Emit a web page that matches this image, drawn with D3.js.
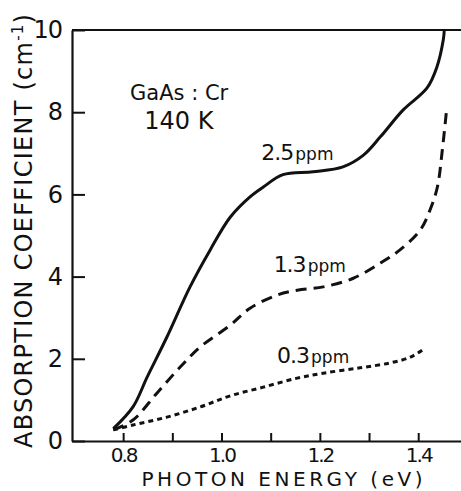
<!DOCTYPE html>
<html>
<head>
<meta charset="utf-8">
<script src="https://cdn.jsdelivr.net/npm/d3@7"></script>
<style>
  body { margin: 0; background: #fff; }
  svg { display: block; }
  text { font-family: "DejaVu Sans", sans-serif; fill: #111; }
</style>
</head>
<body>
<div id="chart"></div>
<script>
// photon energy (eV) / absorption coefficient (cm^-1)
const energy25 = [0.78, 0.82, 0.849, 0.889, 0.936, 0.977, 1.018, 1.058, 1.085, 1.125, 1.186, 1.247, 1.288, 1.323, 1.369, 1.418, 1.438, 1.451, 1.453]
const alpha25  = [0.3, 0.83, 1.56, 2.53, 3.75, 4.65, 5.45, 5.94, 6.18, 6.48, 6.55, 6.67, 6.95, 7.4, 8.05, 8.59, 9.1, 9.76, 10.0]

const energy13 = [0.78, 0.82, 0.869, 0.916, 0.957, 1.018, 1.058, 1.113, 1.154, 1.207, 1.268, 1.323, 1.363, 1.404, 1.424, 1.439, 1.449, 1.457]
const alpha13  = [0.27, 0.51, 1.17, 1.8, 2.29, 2.82, 3.23, 3.55, 3.67, 3.75, 3.96, 4.33, 4.65, 5.13, 5.62, 6.18, 7.08, 7.98]

const energy03 = [0.78, 0.82, 0.889, 0.957, 1.018, 1.085, 1.154, 1.207, 1.282, 1.343, 1.384, 1.408]
const alpha03  = [0.27, 0.39, 0.58, 0.83, 1.1, 1.31, 1.53, 1.65, 1.78, 1.9, 2.04, 2.21]

const xTicks = [0.8, 0.9, 1.0, 1.1, 1.2, 1.3, 1.4]
const xTickLabels = ['0.8', '', '1.0', '', '1.2', '', '1.4']
const yTicks = [0, 2, 4, 6, 8, 10]

const width = 461
const height = 491
const margin = { top: 30, right: 0, bottom: 50, left: 72 }

const x = d3.scaleLinear()
    .domain([0.696, 1.487])
    .range([margin.left, width - margin.right])

const y = d3.scaleLinear()
    .domain([0, 10])
    .range([height - margin.bottom, margin.top])

const svg = d3.select('#chart')
    .append('svg')
    .attr('width', width)
    .attr('height', height)

// x axis, ticks pointing inward
const xAxis = svg.append('g')
    .attr('transform', `translate(0, ${y(0)})`)
    .call(d3.axisBottom(x)
        .tickValues(xTicks)
        .tickSizeInner(-8)
        .tickSizeOuter(0)
        .tickPadding(7)
        .tickFormat((d, i) => xTickLabels[i]))
xAxis.select('.domain').attr('stroke-width', 2.2).attr('stroke', '#111')
xAxis.selectAll('.tick line').attr('stroke-width', 2).attr('stroke', '#111')
xAxis.selectAll('.tick text')
    .attr('font-size', 20)
    .attr('letter-spacing', -2)

// y axis, ticks pointing inward
const yAxis = svg.append('g')
    .attr('transform', `translate(${x.range()[0]}, 0)`)
    .call(d3.axisLeft(y)
        .tickValues(yTicks)
        .tickSizeInner(-13)
        .tickSizeOuter(0)
        .tickPadding(10))
yAxis.select('.domain').attr('stroke-width', 2.2).attr('stroke', '#111')
yAxis.selectAll('.tick line').attr('stroke-width', 2).attr('stroke', '#111')
yAxis.selectAll('.tick text')
    .attr('font-size', 24)
    .attr('letter-spacing', -1)

// top frame line
svg.append('line')
    .attr('x1', x.range()[0])
    .attr('x2', x.range()[1])
    .attr('y1', y(10))
    .attr('y2', y(10))
    .attr('stroke', '#111')
    .attr('stroke-width', 2.2)

const line = d3.line()
    .x(d => x(d[0]))
    .y(d => y(d[1]))
    .curve(d3.curveCatmullRom.alpha(0.5))

const series = [
    { e: energy25, a: alpha25, dash: null },
    { e: energy13, a: alpha13, dash: '11,7' },
    { e: energy03, a: alpha03, dash: '5,4' },
]

svg.append('g')
    .selectAll('path')
    .data(series)
    .join('path')
    .attr('d', s => line(s.e.map((v, i) => [v, s.a[i]])))
    .attr('fill', 'none')
    .attr('stroke', '#111')
    .attr('stroke-width', 3)
    .attr('stroke-dasharray', s => s.dash)

// curve labels
const labels = [
    { n: '2.5', at: [1.081, 6.84] },
    { n: '1.3', at: [1.106, 4.11] },
    { n: '0.3', at: [1.113, 1.9] },
]
labels.forEach(l => {
    const t = svg.append('text')
        .attr('x', x(l.at[0]))
        .attr('y', y(l.at[1]))
        .attr('font-size', 22)
    t.append('tspan').text(l.n).attr('letter-spacing', -1)
    t.append('tspan').text('ppm').attr('font-size', 17).attr('dx', 2)
})

svg.append('text')
    .attr('x', x(0.814))
    .attr('y', y(8.3))
    .attr('font-size', 21)
    .text('GaAs : Cr')

svg.append('text')
    .attr('x', x(0.843))
    .attr('y', y(7.6))
    .attr('font-size', 24)
    .text('140 K')

// axis titles
svg.append('text')
    .attr('x', 282)
    .attr('y', 486)
    .attr('text-anchor', 'middle')
    .attr('font-size', 20)
    .attr('textLength', 281)
    .text('PHOTON ENERGY (eV)')

const yTitle = svg.append('text')
    .attr('transform', 'translate(32, 231) rotate(-90)')
    .attr('text-anchor', 'middle')
    .attr('font-size', 24)
    .attr('textLength', 434)
yTitle.append('tspan').text('ABSORPTION COEFFICIENT (cm')
yTitle.append('tspan').text('-1').attr('font-size', 15).attr('dy', -9)
yTitle.append('tspan').text(')').attr('dy', 9)
</script>
</body>
</html>
